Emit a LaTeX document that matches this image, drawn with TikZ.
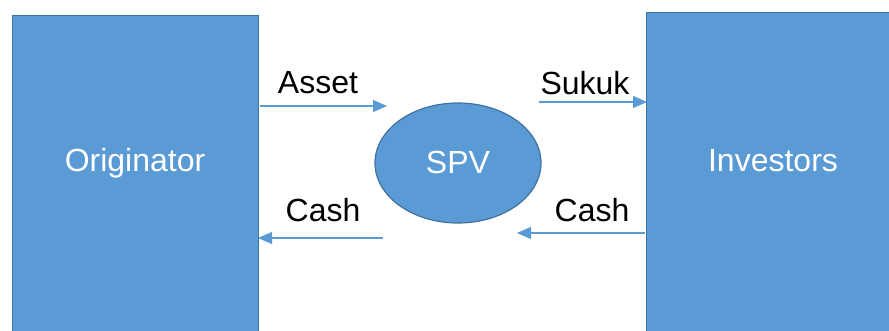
\documentclass[tikz,border=0pt]{standalone}
\usepackage{fontspec}
\setmainfont{Liberation Sans}
\usetikzlibrary{arrows.meta,shapes.geometric}
\definecolor{boxblue}{HTML}{5B9BD5}
\definecolor{boxedge}{HTML}{41719C}
\begin{document}
\begin{tikzpicture}[x=1pt,y=-1pt,
  bluebox/.style={draw=boxedge,line width=1.2pt,fill=boxblue,inner sep=0pt},
  whitetxt/.style={text=white,font=\fontsize{32}{38}\selectfont},
  lbl/.style={text=black,font=\fontsize{32}{38}\selectfont},
  flow/.style={draw=boxblue,line width=1.3pt,-{Triangle[length=14pt,width=12pt]}}]
\useasboundingbox (0,0) rectangle (889,331);
\clip (0,0) rectangle (889,331);
\node[bluebox,minimum width=246pt,minimum height=340pt,anchor=north west] (orig) at (12,15) {};
\node[bluebox,minimum width=260pt,minimum height=340pt,anchor=north west] (inv) at (646,12) {};
\node[bluebox,ellipse,minimum width=166pt,minimum height=120pt] (spv) at (458,163) {};
\node[whitetxt] (origtxt) at (135,163) {Originator};
\node[whitetxt] (invtxt) at (773,161) {Investors};
\node[whitetxt] (spvtxt) at (458,162) {SPV};
\coordinate (a1) at (260,106);
\coordinate (a2) at (387,106);
\coordinate (s1) at (539,102);
\coordinate (s2) at (647,102);
\coordinate (c1) at (383,238);
\coordinate (c2) at (258,238);
\coordinate (d1) at (645,233);
\coordinate (d2) at (517,233);
\draw[flow] (a1) -- (a2);
\draw[flow] (s1) -- (s2);
\draw[flow] (c1) -- (c2);
\draw[flow] (d1) -- (d2);
\node[lbl] (asset) at (318,83) {Asset};
\node[lbl] (sukuk) at (585,83) {Sukuk};
\node[lbl] (cash1) at (323,210) {Cash};
\node[lbl] (cash2) at (592,210) {Cash};
\end{tikzpicture}
\end{document}
